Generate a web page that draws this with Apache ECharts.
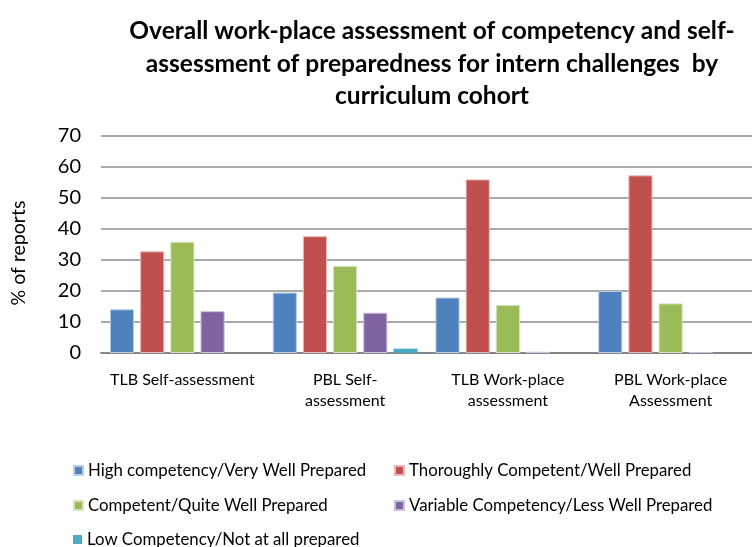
<!DOCTYPE html>
<html>
<head>
<meta charset="utf-8">
<script src="https://cdn.jsdelivr.net/npm/echarts@6/dist/echarts.min.js"></script>
<style>html,body{margin:0;padding:0;background:#fff;}#c{width:752px;height:547px;}</style>
</head>
<body>
<div id="c"></div>
<script>
const categories = ['TLB Self-assessment', 'PBL Self-\nassessment', 'TLB Work-place\nassessment', 'PBL Work-place\nAssessment'];
const seriesNames = ['High competency/Very Well Prepared', 'Thoroughly Competent/Well Prepared', 'Competent/Quite Well Prepared', 'Variable Competency/Less Well Prepared', 'Low Competency/Not at all prepared'];
const highCompetency = [14.1, 19.5, 17.9, 20.0];
const thoroughlyCompetent = [32.8, 37.7, 56.0, 57.3];
const competent = [35.9, 28.1, 15.5, 16.0];
const variableCompetency = [13.5, 13.0, 0.4, 0.3];
const lowCompetency = [0, 1.4, 0, 0];
const yTicks = [0, 10, 20, 30, 40, 50, 60, 70];
const colors = ['#4F81BD', '#C0504D', '#9BBB59', '#8064A2', '#4BACC6'];
const borders = ['#B9CDE5', '#E6B9B8', '#D7E4BD', '#CCC1DA', '#B7DEE8'];

const font = 'Lato, sans-serif';
const allData = [highCompetency, thoroughlyCompetent, competent, variableCompetency, lowCompetency];

const legendPos = [[68, 457], [389, 457], [68, 492], [389, 492], [68, 526]];
const chart = echarts.init(document.getElementById('c'), null, {renderer: 'canvas'});
chart.setOption({
  animation: false,
  textStyle: {fontFamily: font},
  title: {
    text: 'Overall work-place assessment of competency and self-\nassessment of preparedness for intern challenges  by\ncurriculum cohort',
    left: 427, top: 10, textAlign: 'center',
    textStyle: {fontFamily: font, fontSize: 24.5, fontWeight: 'bold', color: '#000', lineHeight: 32.5}
  },
  legend: seriesNames.map((n, i) => ({
    data: [n], left: legendPos[i][0], top: legendPos[i][1], itemWidth: 9, itemHeight: 9, itemGap: 3, icon: 'rect',
    textStyle: {fontFamily: font, fontSize: 16.8, color: '#000', padding: [0, 0, 0, 0]}
  })),
  grid: {left: 101, right: -9, top: 136, bottom: 194, containLabel: false},
  xAxis: {
    type: 'category', data: categories,
    axisLine: {lineStyle: {color: '#868686', width: 2}},
    axisTick: {show: false},
    axisLabel: {fontFamily: font, fontSize: 16, color: '#000', margin: 16, lineHeight: 21, interval: 0}
  },
  yAxis: {
    type: 'value', min: 0, max: 70, interval: 10,
    name: '% of reports', nameLocation: 'middle', nameGap: 72, nameRotate: 90,
    nameTextStyle: {fontFamily: font, fontSize: 19.5, color: '#000', padding: [0, 17, 0, 0]},
    axisLine: {show: false}, axisTick: {show: false},
    splitLine: {lineStyle: {color: '#8C8C8C', width: 1.5}},
    axisLabel: {fontFamily: font, fontSize: 20, color: '#000', margin: 20,
      formatter: v => yTicks.includes(v) ? String(v) : ''}
  },
  series: allData.map((d, i) => ({
    name: seriesNames[i], type: 'bar', data: d,
    barGap: '25%', barCategoryGap: '11%',
    itemStyle: {color: colors[i], borderColor: borders[i], borderWidth: i === 4 ? 0 : 1}
  }))
});
</script>
</body>
</html>
